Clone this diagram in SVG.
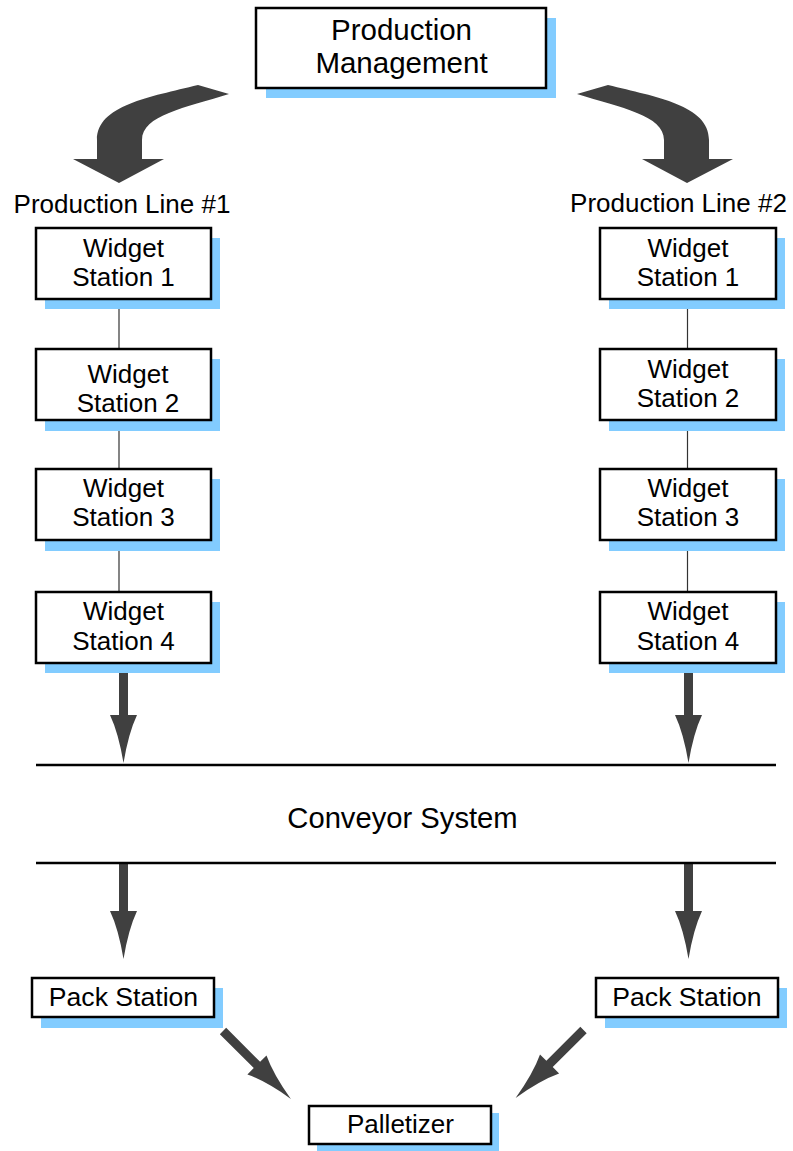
<svg xmlns="http://www.w3.org/2000/svg" xmlns:xlink="http://www.w3.org/1999/xlink" width="793" height="1151" viewBox="0 0 793 1151">
<style>
.box{fill:#ffffff;stroke:#000000;stroke-width:2.5}
.shadow{fill:#82ccff;stroke:none}
.t{font-family:"Liberation Sans",Arial,sans-serif;font-size:26px;fill:#000000;text-anchor:middle}
.big{font-size:29.5px}
.conv{font-size:29.2px}
.pack{font-size:26.6px}
.link{stroke:#333333;stroke-width:1.2;fill:none}
.belt{stroke:#000000;stroke-width:2.5;fill:none}
.arr{fill:#404040;stroke:none}
</style>
<defs>
<path id="darrow" d="M-4.5,0 L4.5,0 L4.5,48 L13.5,48 Q5,66 0,96 Q-5,66 -13.5,48 L-4.5,48 Z"/>
<path id="carrow" d="M198,85 L229,94 C185,108 142,115 142,140 L142,159 L164,159 L119,183 L73,159 L97,159 L97,140 C97,105 150,97 198,85 Z"/>
</defs>
<rect width="793" height="1151" fill="#ffffff"/>

<g id="connectors">
<line class="link" x1="119" y1="299" x2="119" y2="349"/>
<line class="link" x1="119" y1="420" x2="119" y2="469"/>
<line class="link" x1="119" y1="540" x2="119" y2="592"/>
<line class="link" x1="687.5" y1="299" x2="687.5" y2="349"/>
<line class="link" x1="687.5" y1="420" x2="687.5" y2="469"/>
<line class="link" x1="687.5" y1="540" x2="687.5" y2="592"/>
<use href="#carrow" xlink:href="#carrow" class="arr"/>
<use href="#carrow" xlink:href="#carrow" class="arr" transform="translate(806,0) scale(-1,1)"/>
<use href="#darrow" xlink:href="#darrow" class="arr" transform="translate(123.5,667)"/>
<use href="#darrow" xlink:href="#darrow" class="arr" transform="translate(688.5,667)"/>
<use href="#darrow" xlink:href="#darrow" class="arr" transform="translate(123.5,863)"/>
<use href="#darrow" xlink:href="#darrow" class="arr" transform="translate(688.5,863)"/>
<use href="#darrow" xlink:href="#darrow" class="arr" transform="translate(223,1031) rotate(-45)"/>
<use href="#darrow" xlink:href="#darrow" class="arr" transform="translate(583.5,1030) rotate(45)"/>
</g>

<g id="conveyor">
<line class="belt" x1="36" y1="765" x2="776" y2="765"/>
<line class="belt" x1="36" y1="863" x2="776" y2="863"/>
<text class="t conv" x="402.5" y="828">Conveyor System</text>
</g>

<g id="production-management">
<rect class="shadow" x="266" y="18" width="290" height="80"/>
<rect class="box" x="256" y="8" width="290" height="80"/>
<text class="t big" x="401.5" y="40">Production</text>
<text class="t big" x="401.5" y="73">Management</text>
</g>

<g id="label-line1"><text class="t" x="122" y="213">Production Line #1</text></g>
<g id="label-line2"><text class="t" x="678.5" y="212">Production Line #2</text></g>

<g id="l1-station1">
<rect class="shadow" x="45" y="238" width="175" height="71"/>
<rect class="box" x="36" y="228" width="175" height="71"/>
<text class="t" x="123.5" y="257">Widget</text>
<text class="t" x="123.5" y="286">Station 1</text>
</g>
<g id="l1-station2">
<rect class="shadow" x="45" y="359" width="175" height="72"/>
<rect class="box" x="36" y="349" width="175" height="71"/>
<text class="t" x="128" y="383">Widget</text>
<text class="t" x="128" y="412">Station 2</text>
</g>
<g id="l1-station3">
<rect class="shadow" x="45" y="479" width="175" height="72"/>
<rect class="box" x="36" y="469" width="175" height="71"/>
<text class="t" x="123.5" y="497">Widget</text>
<text class="t" x="123.5" y="526">Station 3</text>
</g>
<g id="l1-station4">
<rect class="shadow" x="45" y="602" width="175" height="71"/>
<rect class="box" x="36" y="592" width="175" height="71"/>
<text class="t" x="123.5" y="620">Widget</text>
<text class="t" x="123.5" y="650">Station 4</text>
</g>

<g id="l2-station1">
<rect class="shadow" x="609" y="238" width="176" height="71"/>
<rect class="box" x="600" y="228" width="176" height="71"/>
<text class="t" x="688" y="257">Widget</text>
<text class="t" x="688" y="286">Station 1</text>
</g>
<g id="l2-station2">
<rect class="shadow" x="609" y="359" width="176" height="72"/>
<rect class="box" x="600" y="349" width="176" height="71"/>
<text class="t" x="688" y="378">Widget</text>
<text class="t" x="688" y="407">Station 2</text>
</g>
<g id="l2-station3">
<rect class="shadow" x="609" y="479" width="176" height="72"/>
<rect class="box" x="600" y="469" width="176" height="71"/>
<text class="t" x="688" y="497">Widget</text>
<text class="t" x="688" y="526">Station 3</text>
</g>
<g id="l2-station4">
<rect class="shadow" x="609" y="602" width="176" height="71"/>
<rect class="box" x="600" y="592" width="176" height="71"/>
<text class="t" x="688" y="620">Widget</text>
<text class="t" x="688" y="650">Station 4</text>
</g>

<g id="pack-left">
<rect class="shadow" x="41" y="988" width="182" height="40"/>
<rect class="box" x="32" y="978" width="182" height="39"/>
<text class="t pack" x="123.5" y="1006">Pack Station</text>
</g>
<g id="pack-right">
<rect class="shadow" x="605" y="988" width="182" height="40"/>
<rect class="box" x="596" y="978" width="182" height="39"/>
<text class="t pack" x="687" y="1006">Pack Station</text>
</g>
<g id="palletizer">
<rect class="shadow" x="317" y="1113" width="182" height="38"/>
<rect class="box" x="309" y="1106" width="182" height="38"/>
<text class="t" x="400.5" y="1133">Palletizer</text>
</g>
</svg>
